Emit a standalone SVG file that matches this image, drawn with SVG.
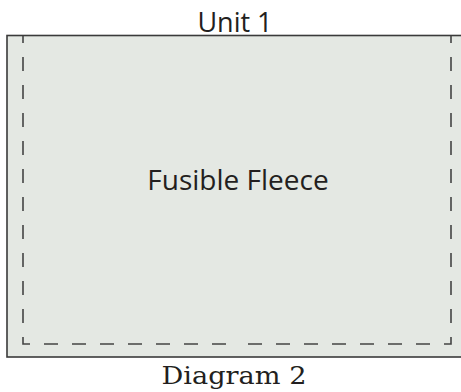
<svg xmlns="http://www.w3.org/2000/svg" width="461" height="392" viewBox="0 0 461 392">
<style>
.sans{font-family:"Open Sans","Noto Sans",sans-serif;fill:#231f20;text-anchor:middle}
.serif{font-family:"DejaVu Serif","Liberation Serif",serif;fill:#231f20;text-anchor:middle}
.seam{fill:none;stroke:#444;stroke-width:1.6;stroke-dasharray:14 14;stroke-dashoffset:7}
</style>
<rect width="461" height="392" fill="#ffffff"/>
<g id="unit1">
<rect x="7" y="35.5" width="470" height="321.5" fill="#e4e8e3" stroke="#3a3a3a" stroke-width="1.6"/>
<path class="seam" d="M23,36 V344 H237"/>
<path class="seam" d="M451,36 V344 H237"/>
<text class="sans" x="238" y="190" font-size="28">Fusible Fleece</text>
</g>
<text class="sans" x="235" y="32" font-size="27">Unit 1</text>
<text class="serif" x="234" y="384" font-size="25" textLength="145" lengthAdjust="spacingAndGlyphs">Diagram 2</text>
</svg>
